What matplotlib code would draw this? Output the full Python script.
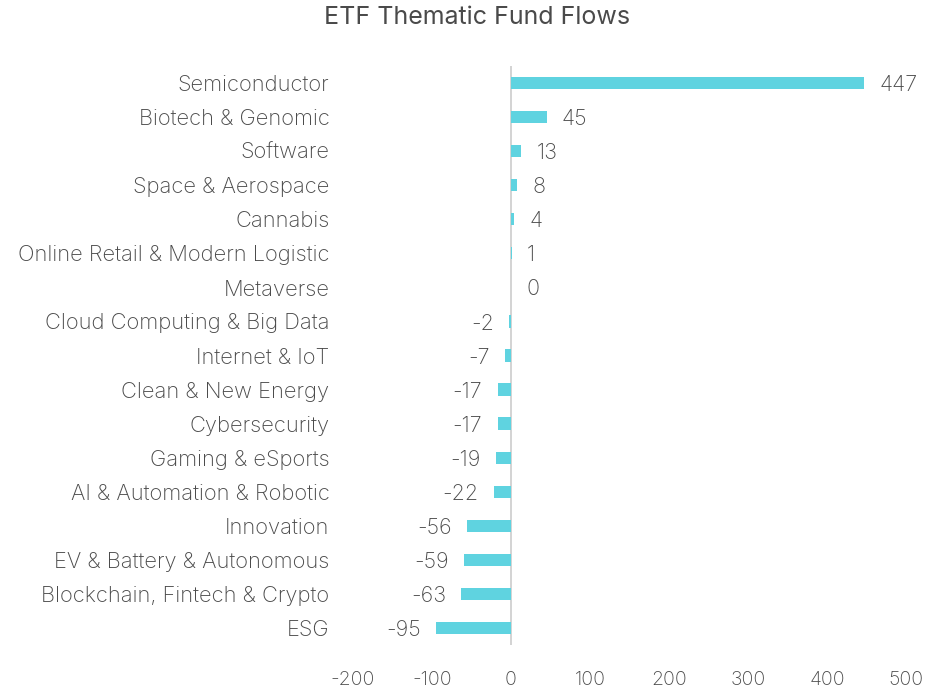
import matplotlib
matplotlib.use("Agg")
import matplotlib.pyplot as plt

categories = ["Semiconductor", "Biotech & Genomic", "Software", "Space & Aerospace",
              "Cannabis", "Online Retail & Modern Logistic", "Metaverse",
              "Cloud Computing & Big Data", "Internet & IoT", "Clean & New Energy",
              "Cybersecurity", "Gaming & eSports", "AI & Automation & Robotic",
              "Innovation", "EV & Battery & Autonomous", "Blockchain, Fintech & Crypto", "ESG"]
values = [447, 45, 13, 8, 4, 1, 0, -2, -7, -17, -17, -19, -22, -56, -59, -63, -95]
xticks = [-200, -100, 0, 100, 200, 300, 400, 500]

plt.rcParams['font.family'] = ['Inter', 'DejaVu Sans']
plt.rcParams['font.weight'] = 'light'
txt = '#4a4a4a'

fig = plt.figure(figsize=(9.48, 6.91), dpi=100)
ax = fig.add_axes([353/948, 1-645/691, (906-353)/948, (645-66)/691])

y = list(range(len(categories)))
ax.barh(y, values, height=0.36, color='#5fd3e0', zorder=2)
ax.set_ylim(len(categories)-0.5, -0.5)
ax.set_xlim(-200, 500)
ax.set_xticks(xticks)
ax.set_xticklabels([str(t) for t in xticks])
ax.set_yticks(y)
ax.set_yticklabels(categories, fontsize=15.8)
ax.tick_params(axis='both', length=0, colors=txt)
ax.tick_params(axis='x', labelsize=14, pad=19)
ax.tick_params(axis='y', pad=17)
for s in ax.spines.values():
    s.set_visible(False)
ax.axvline(0, color='#cccccc', lw=1.2, zorder=1)

for yi, v in zip(y, values):
    if v >= 0:
        ax.annotate(str(v), (v, yi), xytext=(11, -1.5), textcoords='offset points',
                    ha='left', va='center', color=txt, fontsize=15.5)
    else:
        ax.annotate(str(v), (v, yi), xytext=(-11, -1.5), textcoords='offset points',
                    ha='right', va='center', color=txt, fontsize=15.5)

fig.suptitle("ETF Thematic Fund Flows", x=477/948, y=1-17/691, va='center',
             color=txt, fontsize=18)
fig.savefig("out.png", dpi=100, facecolor='white')
